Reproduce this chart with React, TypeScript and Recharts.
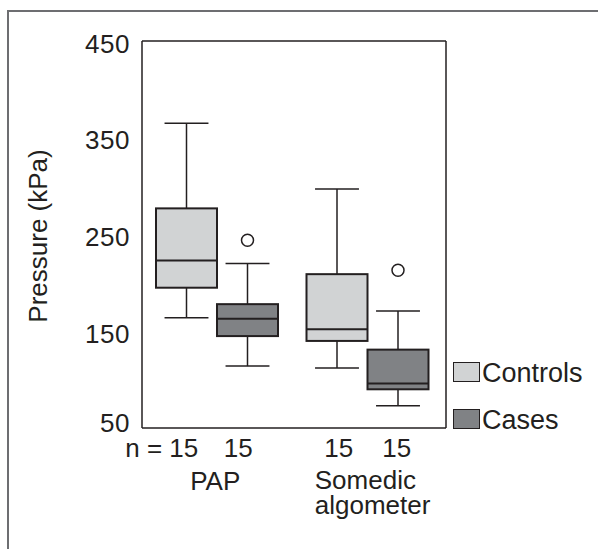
import React from 'react'
import { ComposedChart, Bar, XAxis, YAxis, Legend } from 'recharts'

// Box plots de pression (kPa) : témoins vs cas, deux méthodes de mesure.
const categories = ['PAP', 'Somedic algometer']
const nCounts = [[15, 15], [15, 15]]
const seriesNames = ['Controls', 'Cases']

const controlsMin = [164, 112]
const controlsQ1 = [195, 140]
const controlsMedian = [223, 152]
const controlsQ3 = [277, 209]
const controlsMax = [365, 297]
const controlsOutliers = [[], []]

const casesMin = [114, 73]
const casesQ1 = [145, 90]
const casesMedian = [163, 96]
const casesQ3 = [178, 131]
const casesMax = [220, 171]
const casesOutliers = [[244], [213]]

const yTicks = [50, 150, 250, 350, 450]

const INK = '#231f20'
const FONT = "'Liberation Sans', Arial, Helvetica, sans-serif"
const CONTROLS_FILL = '#d1d3d4'
const CASES_FILL = '#808285'

type Stats = { min: number; q1: number; med: number; q3: number; max: number; out: number[] }

const controlsStats: Stats[] = categories.map((_, i) => ({
  min: controlsMin[i], q1: controlsQ1[i], med: controlsMedian[i], q3: controlsQ3[i], max: controlsMax[i], out: controlsOutliers[i],
}))
const casesStats: Stats[] = categories.map((_, i) => ({
  min: casesMin[i], q1: casesQ1[i], med: casesMedian[i], q3: casesQ3[i], max: casesMax[i], out: casesOutliers[i],
}))

const data = categories.map((name, i) => ({
  name,
  controls: [controlsMin[i], controlsMax[i]],
  cases: [casesMin[i], casesMax[i]],
}))

function boxShape(stats: Stats[], fill: string) {
  return (props: any) => {
    const { x, y, width, height, payload } = props
    const s = stats[categories.indexOf(payload.name)]
    if (!s) return null
    const k = height / (s.max - s.min)
    const py = (v: number) => y + (s.max - v) * k
    const cx = x + width / 2
    const cap = width * 0.36
    return (
      <g>
        <line x1={cx} x2={cx} y1={py(s.max)} y2={py(s.q3)} stroke={INK} strokeWidth={1.5} />
        <line x1={cx} x2={cx} y1={py(s.q1)} y2={py(s.min)} stroke={INK} strokeWidth={1.5} />
        <line x1={cx - cap} x2={cx + cap} y1={py(s.max)} y2={py(s.max)} stroke={INK} strokeWidth={1.5} />
        <line x1={cx - cap} x2={cx + cap} y1={py(s.min)} y2={py(s.min)} stroke={INK} strokeWidth={1.5} />
        <rect x={x} y={py(s.q3)} width={width} height={py(s.q1) - py(s.q3)} fill={fill} stroke={INK} strokeWidth={2} />
        <line x1={x} x2={x + width} y1={py(s.med)} y2={py(s.med)} stroke={INK} strokeWidth={2} />
        {s.out.map((o, j) => (
          <circle key={j} cx={cx} cy={py(o)} r={6} fill="#fff" stroke={INK} strokeWidth={1.5} />
        ))}
      </g>
    )
  }
}

function YTick(props: any) {
  const { x, y, payload } = props
  const dy = payload.value === 50 ? 4 : 11.5
  return (
    <text x={x} y={y + dy} textAnchor="end" fontSize={26} letterSpacing={0.5} fontFamily={FONT} fill={INK}>
      {payload.value}
    </text>
  )
}

function XTick(props: any) {
  const { x, y, payload } = props
  const i = categories.indexOf(payload.value)
  const n = nCounts[i]
  const t = { fontSize: 26, fontFamily: FONT, fill: INK }
  if (i === 0) {
    return (
      <g>
        <text x={x - 19} y={y + 29} textAnchor="end" {...t}>{`n = ${n[0]}`}</text>
        <text x={x + 21} y={y + 29} textAnchor="middle" {...t}>{n[1]}</text>
        <text x={x - 2} y={y + 62} textAnchor="middle" {...t}>{payload.value}</text>
      </g>
    )
  }
  const [l1, l2] = String(payload.value).split(' ')
  return (
    <g>
      <text x={x - 29} y={y + 29} textAnchor="middle" {...t}>{n[0]}</text>
      <text x={x + 29} y={y + 29} textAnchor="middle" {...t}>{n[1]}</text>
      <text x={x - 53} y={y + 61} textAnchor="start" {...t}>{l1}</text>
      <text x={x - 53} y={y + 86} textAnchor="start" {...t}>{l2}</text>
    </g>
  )
}

function YLabel(props: any) {
  const vb = props.viewBox
  const cx = vb.x + 39
  const cy = vb.y + vb.height / 2 + 1.5
  return (
    <text x={cx} y={cy} transform={`rotate(-90, ${cx}, ${cy})`} textAnchor="middle" fontSize={26} fontFamily={FONT} fill={INK}>
      Pressure (kPa)
    </text>
  )
}

const renderLegend = (props: any) => {
  const items = [...(props.payload ?? [])].sort(
    (a: any, b: any) => seriesNames.indexOf(a.value) - seriesNames.indexOf(b.value),
  )
  return (
    <div style={{ fontFamily: FONT, color: INK }}>
      {items.map((e: any) => (
        <div key={e.value} style={{ fontSize: 27, lineHeight: '26px', height: 47, whiteSpace: 'nowrap' }}>
          <span style={{
            display: 'inline-block', width: 27, height: 20, boxSizing: 'border-box',
            border: `1.5px solid ${INK}`, background: e.color, marginRight: 2,
          }} />
          <span>{e.value}</span>
        </div>
      ))}
    </div>
  )
}

export default function App() {
  return (
    <div style={{ position: 'absolute', left: 0, top: 0, width: 598, height: 549, background: '#fff', fontFamily: FONT }}>
      <div style={{
        position: 'absolute', left: 7, top: 10, right: 0, bottom: 0,
        borderTop: '2px solid #6d6e71', borderLeft: '2px solid #6d6e71',
      }} />
      <div style={{ position: 'absolute', left: 0, top: 0 }}>
        <ComposedChart width={598} height={549} data={data} margin={{ top: 40, right: 151, bottom: 0, left: 8 }} barGap={0}>
          <XAxis dataKey="name" height={121} tickSize={0} tickMargin={0} tickLine={false}
            axisLine={{ stroke: INK, strokeWidth: 1.5 }} tick={<XTick />} interval={0} padding={{ left: 0, right: 3 }} />
          <XAxis xAxisId="top" dataKey="name" orientation="top" height={1} tick={false} tickLine={false}
            axisLine={{ stroke: INK, strokeWidth: 1.5 }} padding={{ left: 0, right: 3 }} />
          <YAxis type="number" domain={[50, 450]} ticks={yTicks} width={134} tickSize={0} tickMargin={12}
            tickLine={false} axisLine={{ stroke: INK, strokeWidth: 1.5 }} tick={<YTick />} allowDataOverflow
            label={{ content: (p: any) => <YLabel {...p} /> }} />
          <YAxis yAxisId="right" orientation="right" type="number" domain={[50, 450]} width={1} tick={false}
            tickLine={false} axisLine={{ stroke: INK, strokeWidth: 1.5 }} />
          <Legend layout="horizontal" verticalAlign="middle" align="center" content={renderLegend}
            wrapperStyle={{ left: 453, top: 360, width: 145, height: 'auto' }} />
          <Bar dataKey="controls" name="Controls" fill={CONTROLS_FILL} barSize={61}
            shape={boxShape(controlsStats, CONTROLS_FILL)} isAnimationActive={false} />
          <Bar dataKey="cases" name="Cases" fill={CASES_FILL} barSize={61}
            shape={boxShape(casesStats, CASES_FILL)} isAnimationActive={false} />
        </ComposedChart>
      </div>
    </div>
  )
}
